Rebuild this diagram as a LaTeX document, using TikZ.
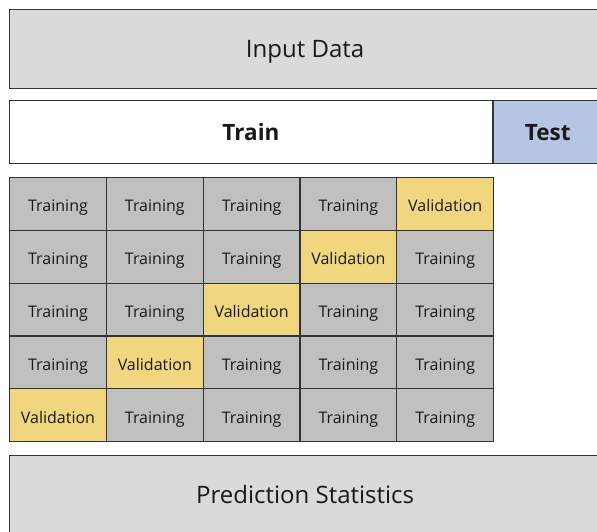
\documentclass[tikz,border=0pt]{standalone}
\usepackage{fontspec}
\setmainfont{Open Sans}
\usepackage{xcolor}
\usetikzlibrary{positioning}

\definecolor{grisclaro}{HTML}{DADADA}
\definecolor{grismedio}{HTML}{C0C0C0}
\definecolor{amarillo}{HTML}{F0D67E}
\definecolor{azulclaro}{HTML}{B4C6E3}
\definecolor{borde}{HTML}{333333}

\tikzset{
  caja/.style={draw=borde, line width=1.2pt, anchor=north west, inner sep=0pt, text=black!90},
  grande/.style={font=\fontsize{24}{28}\selectfont, text height=18pt, text depth=0.4pt},
  negrita/.style={font=\fontsize{22.5}{27}\selectfont\bfseries, text height=18pt, text depth=0.4pt},
  celda/.style={caja, fill=grismedio, minimum width=96.8pt, minimum height=52.8pt,
    font=\fontsize{16}{19}\selectfont, text height=16pt, text depth=0.4pt},
  valida/.style={celda, fill=amarillo}
}

\begin{document}
\begin{tikzpicture}[x=1pt,y=-1pt]
    \clip (0,0) rectangle (597,531);
    % Datos de entrada
    \node[caja, grande, fill=grisclaro, minimum width=591pt, minimum height=78.5pt] (entrada) at (9,9) {Input Data};
    % Train / Test
    \node[caja, negrita, fill=white, minimum width=482.7pt, minimum height=63pt] (train) at (9,100) {Train};
    \node[caja, negrita, fill=azulclaro, minimum width=108.3pt, minimum height=63pt] (test) at (train.north east) {Test};
    % Tabla de validacion cruzada
    \foreach \f in {1,...,5}{
        \foreach \c in {1,...,5}{
            \pgfmathtruncatemacro{\suma}{\f+\c}
            \ifnum\suma=6
                \node[valida] (c\f\c) at ({9+(\c-1)*96.8},{177+(\f-1)*52.8}) {Validation};
            \else
                \node[celda] (c\f\c) at ({9+(\c-1)*96.8},{177+(\f-1)*52.8}) {Training};
            \fi
        }
    }
    % Resultado
    \node[caja, grande, fill=grisclaro, minimum width=591pt, minimum height=78.5pt] (prediccion) at (9,455) {Prediction Statistics};
\end{tikzpicture}
\end{document}
